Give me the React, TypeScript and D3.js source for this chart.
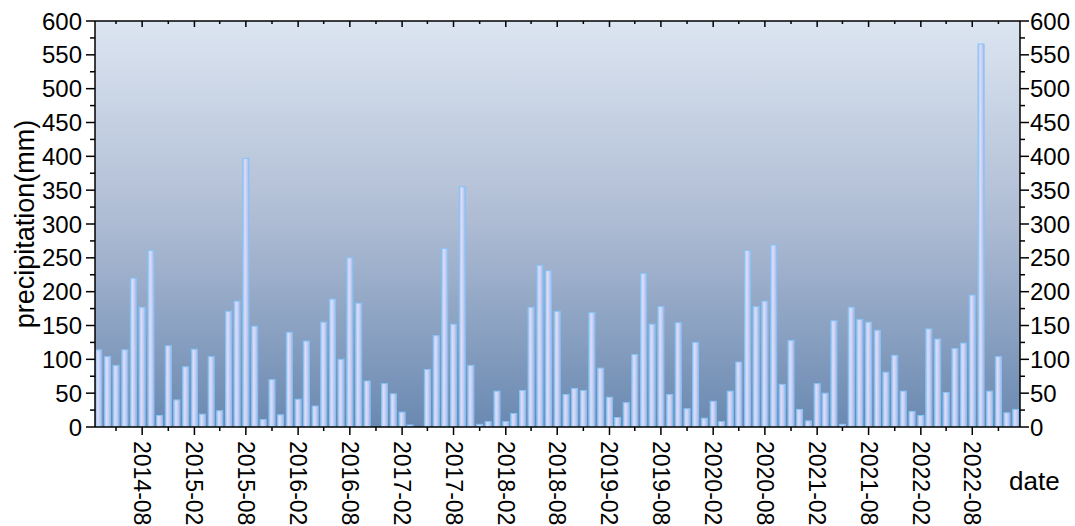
import React from "react";
import * as d3 from "d3";

const width = 1075;
const height = 526;
const plot = { left: 95, right: 1020, top: 21, bottom: 427 };
const font = "'Liberation Sans', Arial, sans-serif";

// monthly precipitation, first bar is 2014-03
const firstMonth = "2014-03";
const precipitation = [
  114, 104, 91, 114, 220, 177, 261, 17, 120, 40,
  89, 115, 19, 104, 24, 171, 186, 397, 149, 11,
  70, 18, 140, 41, 127, 31, 155, 189, 100, 250,
  183, 68, 0, 64, 49, 22, 3, 0, 85, 135,
  264, 152, 355, 91, 4, 8, 53, 8, 20, 54,
  177, 239, 231, 171, 48, 57, 54, 169, 87, 44,
  14, 36, 107, 227, 152, 178, 48, 154, 27, 125,
  13, 38, 8, 53, 96, 261, 178, 186, 269, 63,
  128, 26, 9, 64, 50, 157, 4, 177, 159, 155,
  143, 81, 106, 53, 23, 17, 145, 130, 51, 116,
  124, 195, 566, 53, 104, 21, 26,
];

const xTickLabels = [
  "2014-08", "2015-02", "2015-08", "2016-02", "2016-08", "2017-02",
  "2017-08", "2018-02", "2018-08", "2019-02", "2019-08", "2020-02",
  "2020-08", "2021-02", "2021-08", "2022-02", "2022-08",
];
const yTicks = [0, 50, 100, 150, 200, 250, 300, 350, 400, 450, 500, 550, 600];

const parseMonth = d3.timeParse("%Y-%m");
const fmtMonth = d3.timeFormat("%Y-%m");

const x = d3
  .scaleTime()
  .domain([new Date(2014, 1, 16), new Date(2023, 0, 16)])
  .range([plot.left, plot.right]);
const y = d3.scaleLinear().domain([0, 600]).range([plot.bottom, plot.top]);

const start = parseMonth(firstMonth) as Date;
const months = precipitation.map((_, i) => d3.timeMonth.offset(start, i));
const barW = ((x(new Date(2015, 2, 1)) - x(new Date(2014, 2, 1))) / 12) * 0.7;

// major ticks every 6 months, minor ones in between
const xTicks = d3
  .timeMonth
  .range(new Date(2014, 4, 1), x.domain()[1], 3)
  .map((d) => ({ d, major: xTickLabels.includes(fmtMonth(d)) }));
const yMinor = d3.range(25, 600, 50);

const App = () => {
  return (
    <svg
      width={width}
      height={height}
      style={{ position: "absolute", left: 0, top: 0, background: "#fff" }}
      fontFamily={font}
    >
      <defs>
        <linearGradient id="bg" x1="0" y1="0" x2="0" y2="1">
          <stop offset="0%" stopColor="#dce5f1" />
          <stop offset="50%" stopColor="#adbbd3" />
          <stop offset="100%" stopColor="#6a89b1" />
        </linearGradient>
        <linearGradient id="bar" x1="0" y1="0" x2="1" y2="0">
          <stop offset="0%" stopColor="#98c7f6" />
          <stop offset="35%" stopColor="#dcdef8" />
          <stop offset="70%" stopColor="#c5caf1" />
          <stop offset="100%" stopColor="#9db6ec" />
        </linearGradient>
        <clipPath id="clip">
          <rect
            x={plot.left}
            y={plot.top}
            width={plot.right - plot.left}
            height={plot.bottom - plot.top}
          />
        </clipPath>
      </defs>

      <rect
        x={plot.left}
        y={plot.top}
        width={plot.right - plot.left}
        height={plot.bottom - plot.top}
        fill="url(#bg)"
      />

      <g clipPath="url(#clip)">
        {precipitation.map((v, i) => (
          <rect
            key={i}
            x={x(months[i]) - barW / 2}
            y={y(v)}
            width={barW}
            height={y(0) - y(v)}
            fill="url(#bar)"
            stroke="#84c4f7"
            strokeWidth={1}
          />
        ))}
      </g>

      {/* frame */}
      <g stroke="#000" strokeWidth={1.5} fill="none">
        <line x1={plot.left} x2={plot.right} y1={plot.bottom} y2={plot.bottom} />
        <line x1={plot.left} x2={plot.right} y1={plot.top} y2={plot.top} />
        <line x1={plot.left} x2={plot.left} y1={plot.top} y2={plot.bottom} />
        <line x1={plot.right} x2={plot.right} y1={plot.top} y2={plot.bottom} />
      </g>

      {/* x ticks bottom + top */}
      <g stroke="#000" strokeWidth={1.5}>
        {xTicks.map((t, i) => (
          <g key={i}>
            <line
              x1={x(t.d)}
              x2={x(t.d)}
              y1={plot.bottom}
              y2={plot.bottom + (t.major ? 8 : 4)}
            />
            <line
              x1={x(t.d)}
              x2={x(t.d)}
              y1={plot.top}
              y2={plot.top + (t.major ? 6 : 3)}
            />
          </g>
        ))}
      </g>
      {xTicks
        .filter((t) => t.major)
        .map((t, i) => (
          <text
            key={i}
            transform={`translate(${x(t.d)},${plot.bottom + 14}) rotate(90)`}
            fontSize={23}
            dominantBaseline="central"
            textAnchor="start"
          >
            {fmtMonth(t.d)}
          </text>
        ))}

      {/* y ticks left + right */}
      <g stroke="#000" strokeWidth={1.5}>
        {yTicks.map((v) => (
          <g key={v}>
            <line x1={plot.left - 9} x2={plot.left} y1={y(v)} y2={y(v)} />
            <line x1={plot.right} x2={plot.right + 9} y1={y(v)} y2={y(v)} />
          </g>
        ))}
        {yMinor.map((v) => (
          <g key={v}>
            <line x1={plot.left - 5} x2={plot.left} y1={y(v)} y2={y(v)} />
            <line x1={plot.right} x2={plot.right + 5} y1={y(v)} y2={y(v)} />
          </g>
        ))}
      </g>
      {yTicks.map((v) => (
        <g key={v} fontSize={24} dominantBaseline="central">
          <text x={plot.left - 13} y={y(v)} textAnchor="end">
            {v}
          </text>
          <text x={plot.right + 10} y={y(v)} textAnchor="start">
            {v}
          </text>
        </g>
      ))}

      <text
        transform={`translate(25,${(plot.top + plot.bottom) / 2}) rotate(-90)`}
        textAnchor="middle"
        dominantBaseline="central"
        fontSize={27}
      >
        precipitation(mm)
      </text>
      <text x={1009} y={490} fontSize={26}>
        date
      </text>
    </svg>
  );
};

export default App;
